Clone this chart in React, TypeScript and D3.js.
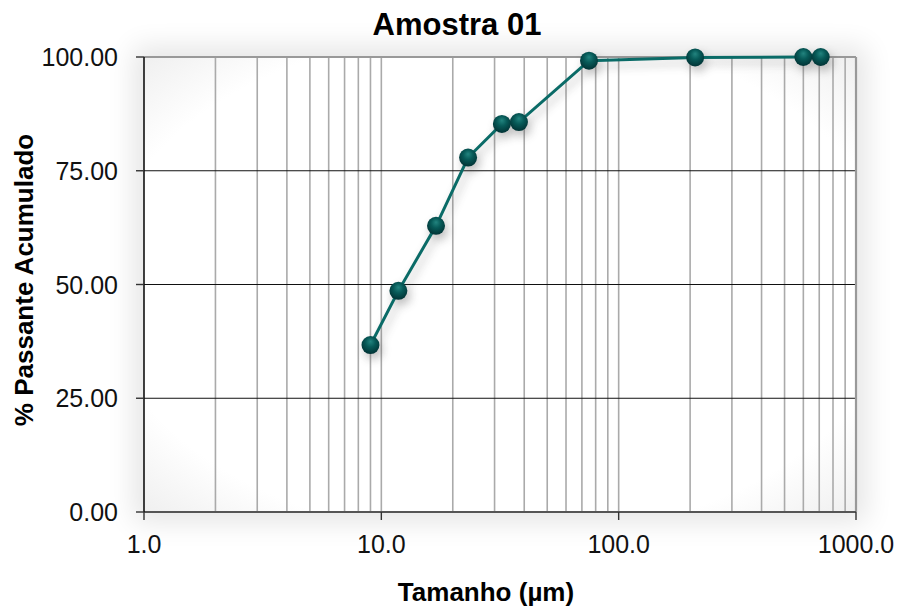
import React from 'react';
import * as d3 from 'd3';

const sizes = [9.0, 11.8, 17.0, 23.2, 32.2, 38.0, 75.0, 210, 600, 710];
const passing = [36.7, 48.6, 62.9, 77.9, 85.3, 85.7, 99.2, 99.9, 100, 100];
const yTicks = [0, 25, 50, 75, 100];
const xDecades = [1, 10, 100, 1000];

const W = 900;
const H = 613;
const margin = { top: 57, right: 44, bottom: 101, left: 144 };
const FONT = "Arial, 'Liberation Sans', sans-serif";

const App = () => {
  const iw = W - margin.left - margin.right;
  const ih = H - margin.top - margin.bottom;

  const x = d3.scaleLog().domain([1, 1000]).range([0, iw]);
  const y = d3.scaleLinear().domain([0, 100]).range([ih, 0]);

  const pts = sizes.map((s, i) => ({ s, p: passing[i] }));
  const line = d3.line<{ s: number; p: number }>()
    .x(d => x(d.s))
    .y(d => y(d.p));

  // minor + major verticals inside the plot
  const vGrid = x.ticks().filter(t => t > 1 && t < 1000);

  return (
    <svg width={W} height={H} style={{ position: 'absolute', left: 0, top: 0, background: '#fff' }}>
      <defs>
        <filter id="glow" x="-20%" y="-20%" width="140%" height="140%">
          <feGaussianBlur stdDeviation="14" />
        </filter>
        <filter id="shadow" x="-50%" y="-50%" width="200%" height="200%">
          <feGaussianBlur stdDeviation="5" />
        </filter>
        <radialGradient id="plotBg" cx="50%" cy="50%" r="72%">
          <stop offset="0%" stopColor="#ffffff" />
          <stop offset="78%" stopColor="#ffffff" />
          <stop offset="100%" stopColor="#eeeeee" />
        </radialGradient>
        <radialGradient id="ball" cx="50%" cy="40%" r="60%" fx="50%" fy="30%">
          <stop offset="0%" stopColor="#22847f" />
          <stop offset="45%" stopColor="#075a58" />
          <stop offset="100%" stopColor="#013335" />
        </radialGradient>
      </defs>

      <g transform={`translate(${margin.left},${margin.top})`}>
        {/* soft outer shadow */}
        <rect x={-10} y={-10} width={iw + 20} height={ih + 20} fill="#000" opacity={0.1} filter="url(#glow)" />
        <rect x={0} y={0} width={iw} height={ih} fill="url(#plotBg)" />

        {vGrid.map(t => (
          <line key={t} x1={x(t)} x2={x(t)} y1={0} y2={ih} stroke="#aaaaaa" strokeWidth={1.6} />
        ))}

        {yTicks.filter(t => t > 0 && t < 100).map(t => (
          <line key={t} x1={0} x2={iw} y1={y(t)} y2={y(t)} stroke="#111" strokeWidth={1} />
        ))}

        {/* borders */}
        <line x1={0} x2={iw} y1={0} y2={0} stroke="#999" strokeWidth={2.2} />
        <line x1={iw} x2={iw} y1={0} y2={ih} stroke="#999" strokeWidth={2.2} />
        <line x1={0} x2={iw} y1={ih} y2={ih} stroke="#555" strokeWidth={2} />
        <line x1={0} x2={0} y1={0} y2={ih} stroke="#111" strokeWidth={1.6} />

        {/* y ticks */}
        {yTicks.map(t => (
          <g key={t} transform={`translate(0,${y(t)})`}>
            <line x1={-8} x2={0} stroke="#333" strokeWidth={1.4} />
            <text x={-26} dy="0.36em" textAnchor="end" fontFamily={FONT} fontSize={25} fill="#111">
              {t.toFixed(2)}
            </text>
          </g>
        ))}

        {/* x ticks */}
        {xDecades.map(t => (
          <g key={t} transform={`translate(${x(t)},${ih})`}>
            <line y1={0} y2={8} stroke="#333" strokeWidth={1.4} />
            <text y={41} textAnchor="middle" fontFamily={FONT} fontSize={25} fill="#111">
              {t.toFixed(1)}
            </text>
          </g>
        ))}

        {/* shadow of series */}
        <g filter="url(#shadow)" opacity={0.35} transform="translate(3,5)">
          <path d={line(pts) ?? ''} fill="none" stroke="#444" strokeWidth={3} />
          {pts.map((d, i) => (
            <circle key={i} cx={x(d.s)} cy={y(d.p)} r={9} fill="#444" />
          ))}
        </g>

        <path d={line(pts) ?? ''} fill="none" stroke="#0a6b67" strokeWidth={3} />
        {pts.map((d, i) => (
          <circle key={i} cx={x(d.s)} cy={y(d.p)} r={9} fill="url(#ball)" />
        ))}
      </g>

      <text x={457} y={35} textAnchor="middle" fontFamily={FONT} fontSize={31} fontWeight="bold" fill="#000">
        Amostra 01
      </text>
      <text x={486} y={601} textAnchor="middle" fontFamily={FONT} fontSize={26} fontWeight="bold" fill="#000">
        Tamanho (µm)
      </text>
      <text
        transform="translate(33,280) rotate(-90)"
        textAnchor="middle"
        fontFamily={FONT}
        fontSize={26}
        fontWeight="bold"
        fill="#000"
      >
        % Passante Acumulado
      </text>
    </svg>
  );
};

export default App;
